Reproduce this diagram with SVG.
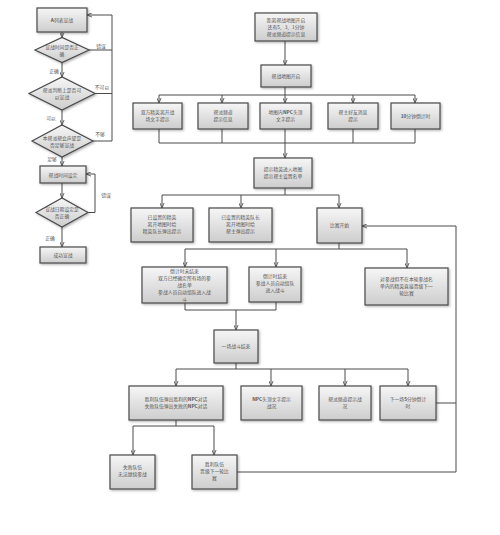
<svg xmlns="http://www.w3.org/2000/svg" width="500" height="535" viewBox="0 0 500 535">
<style>
.bx{fill:url(#g);stroke:#4a4a4a;stroke-width:1.2;filter:url(#sh)}
.t{font-family:"Noto Sans CJK SC","Liberation Sans",sans-serif;font-size:4.8px;fill:#555;text-anchor:middle}
.lb{font-family:"Noto Sans CJK SC","Liberation Sans",sans-serif;font-size:4.8px;fill:#555;text-anchor:middle}
.ln{fill:none;stroke:#4a4a4a;stroke-width:1}
.ar{fill:none;stroke:#4a4a4a;stroke-width:1;marker-end:url(#a)}
.b{font-weight:bold}
</style>
<defs>
<linearGradient id="g" x1="0" y1="0" x2="0" y2="1">
<stop offset="0" stop-color="#f6f6f6"/>
<stop offset="1" stop-color="#cdcdcd"/>
</linearGradient>
<filter id="sh" x="-10%" y="-10%" width="130%" height="140%">
<feDropShadow dx="1.2" dy="1.2" stdDeviation="0.8" flood-color="#000" flood-opacity="0.3"/>
</filter>
<marker id="a" viewBox="0 0 6 6" refX="6" refY="3" markerWidth="5" markerHeight="5" markerUnits="userSpaceOnUse" orient="auto">
<path d="M0,0.5 L6,3 L0,5.5" fill="none" stroke="#4a4a4a" stroke-width="1"/>
</marker>
</defs>
<rect width="500" height="535" fill="#fff"/>

<g id="connectors">
<path class="ar" d="M62,32 V37.5"/>
<path class="ar" d="M62,62.5 V77"/>
<path class="ar" d="M62,110 V125"/>
<path class="ar" d="M62,157 V166"/>
<path class="ar" d="M62,183 V198"/>
<path class="ar" d="M62,227 V247"/>
<path class="ln" d="M89,50 H112 M95,93.5 H112 M93,141 H112"/>
<path class="ar" d="M112,141 V15 H87"/>
<path class="ar" d="M88,212.5 H95 V174 H86"/>
<path class="ar" d="M285,41 V65"/>
<path class="ln" d="M285,87 V95 M159,95 H415"/>
<path class="ar" d="M159,95 V103"/>
<path class="ar" d="M222,95 V103"/>
<path class="ar" d="M285,95 V103"/>
<path class="ar" d="M353,95 V103"/>
<path class="ar" d="M415,95 V103"/>
<path class="ln" d="M159,129 V143 M222,129 V143 M285,129 V143 M353,129 V143 M415,129 V143 M159,143 H415"/>
<path class="ar" d="M285,143 V158"/>
<path class="ln" d="M285,188 V195 M162,195 H339"/>
<path class="ar" d="M162,195 V208"/>
<path class="ar" d="M241,195 V208"/>
<path class="ar" d="M339,195 V208"/>
<path class="ln" d="M339,243 V249 M185,249 H407"/>
<path class="ar" d="M185,249 V267"/>
<path class="ar" d="M276,249 V267"/>
<path class="ar" d="M407,249 V268"/>
<path class="ln" d="M185,303 V310 M276,302 V310 M185,310 H276"/>
<path class="ar" d="M236,310 V330"/>
<path class="ln" d="M236,363 V369 M176,369 H408"/>
<path class="ar" d="M176,369 V386"/>
<path class="ar" d="M271,369 V386"/>
<path class="ar" d="M345,369 V386"/>
<path class="ar" d="M408,369 V386"/>
<path class="ln" d="M436,403 H456 M237,472 H456"/>
<path class="ar" d="M456,472 V226 H362"/>
<path class="ln" d="M176,420 V426 M133,426 H214"/>
<path class="ar" d="M133,426 V455"/>
<path class="ar" d="M214,426 V455"/>
</g>

<g id="edge-labels">
<text class="lb" x="101" y="48">错误</text>
<text class="lb" x="54" y="73">正确</text>
<text class="lb" x="102" y="89">不可以</text>
<text class="lb" x="51" y="120">可以</text>
<text class="lb" x="100" y="136">不够</text>
<text class="lb" x="52" y="161">足够</text>
<text class="lb" x="106" y="197">错误</text>
<text class="lb" x="50" y="240">正确</text>
</g>

<g id="n-start"><rect class="bx" x="37" y="8" width="50" height="24"/><text class="t" x="62" y="22"><tspan class="b">A</tspan>列表宣战</text></g>
<g id="n-d1"><polygon class="bx" points="35,50 62,37.5 89,50 62,62.5"/><text class="t" x="62" y="49">宣战时间是否正<tspan x="62" dy="7">确</tspan></text></g>
<g id="n-d2"><polygon class="bx" points="29,93.5 62,77 95,93.5 62,110"/><text class="t" x="62" y="92">帮派判断上是否可<tspan x="62" dy="7">以宣战</tspan></text></g>
<g id="n-d3"><polygon class="bx" points="32,141 62,125 93,141 62,157"/><text class="t" x="62" y="140">本帮派帮会声望是<tspan x="62" dy="7">否足够宣战</tspan></text></g>
<g id="n-time"><rect class="bx" x="40" y="166" width="46" height="17"/><text class="t" x="63" y="176.5">帮战时间设定</text></g>
<g id="n-d4"><polygon class="bx" points="36,212.5 62,198 88,212.5 62,227"/><text class="t" x="62" y="211">宣战日期设定是<tspan x="62" dy="7">否正确</tspan></text></g>
<g id="n-ok"><rect class="bx" x="40" y="247" width="46" height="16"/><text class="t" x="63" y="257">成功宣战</text></g>

<g id="n-m0"><rect class="bx" x="255" y="13" width="62" height="28"/><text class="t" x="286" y="22">距离帮战地图开启<tspan x="286" dy="7">还有5、3、1分钟</tspan><tspan x="286" dy="7">帮派频道提示信息</tspan></text></g>
<g id="n-m1"><rect class="bx" x="261" y="65" width="50" height="22"/><text class="t" x="286" y="77.5">帮战地图开启</text></g>
<g id="n-r1"><rect class="bx" x="133" y="103" width="49" height="26"/><text class="t" x="157.5" y="114">双方精英离开战<tspan x="157.5" dy="7">场文字提示</tspan></text></g>
<g id="n-r2"><rect class="bx" x="198" y="103" width="50" height="26"/><text class="t" x="223" y="114">帮派频道<tspan x="223" dy="7">提示信息</tspan></text></g>
<g id="n-r3"><rect class="bx" x="260" y="103" width="51" height="26"/><text class="t" x="285.5" y="114">地图内<tspan class="b">NPC</tspan>头顶<tspan x="285.5" dy="7">文字提示</tspan></text></g>
<g id="n-r4"><rect class="bx" x="328" y="103" width="50" height="26"/><text class="t" x="353" y="114">帮主好友消息<tspan x="353" dy="7">提示</tspan></text></g>
<g id="n-r5"><rect class="bx" x="391" y="103" width="49" height="26"/><text class="t" x="415.5" y="117.5"><tspan class="b">10</tspan>分钟倒计时</text></g>
<g id="n-hint"><rect class="bx" x="254" y="158" width="58" height="30"/><text class="t" x="283" y="171">提示精英进入地图<tspan x="283" dy="7">提示帮主设置名单</tspan></text></g>
<g id="n-a"><rect class="bx" x="131" y="208" width="62" height="34"/><text class="t" x="162" y="219">已设置的精英<tspan x="162" dy="7">离开地图时给</tspan><tspan x="162" dy="7">精英队长弹出提示</tspan></text></g>
<g id="n-b"><rect class="bx" x="209" y="208" width="63" height="34"/><text class="t" x="240.5" y="219">已设置的精英队长<tspan x="240.5" dy="7">离开地图时给</tspan><tspan x="240.5" dy="7">帮主弹出提示</tspan></text></g>
<g id="n-c"><rect class="bx" x="317" y="208" width="45" height="35"/><text class="t" x="339.5" y="227">比赛开始</text></g>
<g id="n-d"><rect class="bx" x="142" y="267" width="85" height="36"/><text class="t" x="184.5" y="272.5">倒计时未结束<tspan x="184.5" dy="7">双方已经确定所有场的参</tspan><tspan x="184.5" dy="7">战名单</tspan><tspan x="184.5" dy="7">参战人员自动组队进入战</tspan><tspan x="184.5" dy="7">斗</tspan></text></g>
<g id="n-e"><rect class="bx" x="249" y="267" width="52" height="35"/><text class="t" x="275" y="278">倒计时结束<tspan x="275" dy="7">参战人员自动组队</tspan><tspan x="275" dy="7">进入战斗</tspan></text></g>
<g id="n-f"><rect class="bx" x="365" y="268" width="83" height="37"/><text class="t" x="406.5" y="281">对参战但不在本轮参战名<tspan x="406.5" dy="7">单内的精英直接晋级下一</tspan><tspan x="406.5" dy="7">轮比赛</tspan></text></g>
<g id="n-g"><rect class="bx" x="214" y="330" width="44" height="33"/><text class="t" x="236" y="348">一场战斗结束</text></g>
<g id="n-h"><rect class="bx" x="129" y="386" width="94" height="34"/><text class="t" x="176" y="401">胜利队伍弹出胜利的<tspan class="b">NPC</tspan>对话<tspan x="176" dy="7">失败队伍弹出失败的</tspan><tspan class="b">NPC</tspan>对话</text></g>
<g id="n-i"><rect class="bx" x="241" y="386" width="61" height="34"/><text class="t" x="271.5" y="401"><tspan class="b">NPC</tspan>头顶文字提示<tspan x="271.5" dy="7">战况</tspan></text></g>
<g id="n-j"><rect class="bx" x="319" y="386" width="52" height="34"/><text class="t" x="345" y="401">帮派频道提示战<tspan x="345" dy="7">况</tspan></text></g>
<g id="n-k"><rect class="bx" x="380" y="386" width="56" height="34"/><text class="t" x="408" y="401">下一场<tspan class="b">5</tspan>分钟倒计<tspan x="408" dy="7">时</tspan></text></g>
<g id="n-l"><rect class="bx" x="110" y="455" width="45" height="34"/><text class="t" x="132.5" y="469">失败队伍<tspan x="132.5" dy="7">无法继续参战</tspan></text></g>
<g id="n-m"><rect class="bx" x="192" y="455" width="45" height="34"/><text class="t" x="214.5" y="466">胜利队伍<tspan x="214.5" dy="7">晋级下一轮比</tspan><tspan x="214.5" dy="7">赛</tspan></text></g>
</svg>
